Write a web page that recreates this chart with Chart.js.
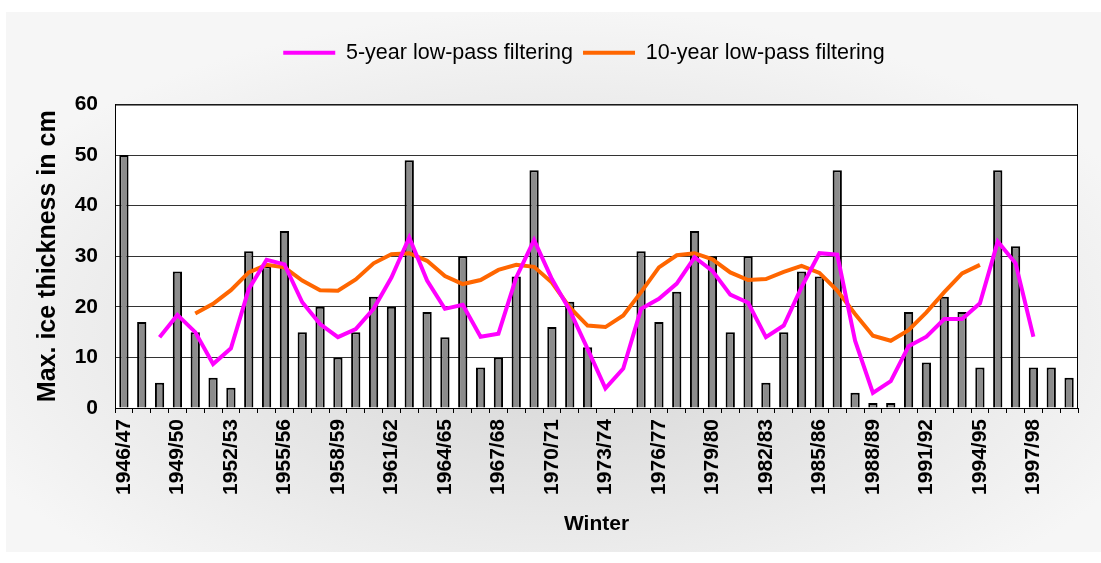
<!DOCTYPE html>
<html>
<head>
<meta charset="utf-8">
<script src="https://cdn.jsdelivr.net/npm/chart.js@4.4.1/dist/chart.umd.min.js"></script>
<style>
  body { margin: 0; background: #fff; }
  #wrap { width: 1101px; height: 563px; }
</style>
</head>
<body>
<div id="wrap"><canvas id="iceChart" width="1101" height="563"></canvas></div>
<script>
// winters 1946/47 .. 1999/00
const winters = [
  "1946/47", "1947/48", "1948/49", "1949/50", "1950/51", "1951/52", "1952/53", "1953/54", "1954/55",
  "1955/56", "1956/57", "1957/58", "1958/59", "1959/60", "1960/61", "1961/62", "1962/63", "1963/64",
  "1964/65", "1965/66", "1966/67", "1967/68", "1968/69", "1969/70", "1970/71", "1971/72", "1972/73",
  "1973/74", "1974/75", "1975/76", "1976/77", "1977/78", "1978/79", "1979/80", "1980/81", "1981/82",
  "1982/83", "1983/84", "1984/85", "1985/86", "1986/87", "1987/88", "1988/89", "1989/90", "1990/91",
  "1991/92", "1992/93", "1993/94", "1994/95", "1995/96", "1996/97", "1997/98", "1998/99", "1999/00"
];

// max. ice thickness per winter (cm), no ice in 1973/74 and 1974/75
const iceThickness = [
  50, 17, 5, 27, 15, 6, 4, 31, 28,
  35, 15, 20, 10, 15, 22, 20, 49, 19,
  14, 30, 8, 10, 26, 47, 16, 21, 12,
  null, null, 31, 17, 23, 35, 30, 15, 30,
  5, 15, 27, 26, 47, 3, 1, 1, 19,
  9, 22, 19, 8, 47, 32, 8, 8, 6
];

const lowPass5 = [
  null, null, 14.0, 18.4, 15.0, 8.7, 11.8, 23.5, 29.3,
  28.4, 20.9, 16.6, 14.0, 15.6, 19.6, 25.8, 33.7, 25.2,
  19.6, 20.4, 14.1, 14.7, 25.8, 33.2, 25.5, 19.3, 11.7,
  3.9, 7.8, 19.6, 21.6, 24.6, 29.8, 27.1, 22.4, 20.8,
  14.0, 16.3, 23.9, 30.6, 30.3, 13.3, 3.0, 5.3, 12.2,
  14.1, 17.6, 17.6, 20.7, 32.9, 28.6, 14.1, null, null
];

const lowPass10 = [
  null, null, null, null, 18.7, 20.6, 23.3, 26.8, 28.3,
  27.8, 25.2, 23.3, 23.2, 25.4, 28.6, 30.4, 30.6, 29.1,
  26.1, 24.5, 25.3, 27.3, 28.3, 27.9, 24.8, 19.9, 16.3,
  16.0, 18.3, 22.9, 27.8, 30.2, 30.6, 29.4, 26.8, 25.3,
  25.5, 26.9, 28.1, 26.7, 23.2, 18.6, 14.3, 13.3, 15.4,
  18.9, 22.9, 26.6, 28.3, null, null, null, null, null
];

const yTicks = [0, 10, 20, 30, 40, 50, 60];

const FONT = "'Liberation Sans', Arial, sans-serif";

// grey panel behind everything, white plot area, frame round the plot
const panelBackground = {
  id: "panelBackground",
  beforeDraw(chart) {
    const c = chart.ctx;
    const area = chart.chartArea;
    c.save();
    c.fillStyle = "#fff";
    c.fillRect(0, 0, chart.width, chart.height);

    c.beginPath();
    c.rect(6, 12, chart.width - 6, chart.height - 23);
    c.clip();
    c.translate(560, 330);
    c.scale(1, 0.5);
    const g = c.createRadialGradient(0, 0, 0, 0, 0, 640);
    g.addColorStop(0, "#d4d4d4");
    g.addColorStop(1, "#f6f6f6");
    c.fillStyle = g;
    c.fillRect(-700, -800, 1400, 1600);
    c.restore();

    c.save();
    c.fillStyle = "#fff";
    c.fillRect(area.left, area.top, area.right - area.left, area.bottom - area.top);
    c.restore();
  },
  afterDatasetsDraw(chart) {
    const c = chart.ctx;
    const area = chart.chartArea;
    c.save();
    c.strokeStyle = "#000";
    c.lineWidth = 1;
    c.strokeRect(area.left + 0.5, area.top + 0.5, area.right - area.left - 1, area.bottom - area.top);
    c.restore();
  }
};

// extra room between legend and plot, legend sits a bit right of centre
const legendSpacing = {
  id: "legendSpacing",
  beforeLayout(chart) {
    const legend = chart.legend;
    if (!legend || legend._spaced) return;
    const fit = legend.fit;
    legend.fit = function () {
      fit.call(this);
      this.height += 31;
    };
    legend._spaced = true;
  },
  afterLayout(chart) {
    if (chart.legend) chart.legend.left += 90;
  }
};

new Chart(document.getElementById("iceChart"), {
  data: {
    labels: winters,
    datasets: [
      {
        type: "line",
        label: "5-year low-pass filtering",
        data: lowPass5,
        borderColor: "#ff00ff",
        backgroundColor: "#ff00ff",
        borderWidth: 4,
        pointRadius: 0,
        tension: 0,
        order: 0
      },
      {
        type: "line",
        label: "10-year low-pass filtering",
        data: lowPass10,
        borderColor: "#ff6600",
        backgroundColor: "#ff6600",
        borderWidth: 4,
        pointRadius: 0,
        tension: 0,
        order: 1
      },
      {
        type: "bar",
        label: "Max. ice thickness",
        data: iceThickness,
        backgroundColor: "#8c8c8c",
        borderColor: "#000",
        borderWidth: 2,
        barPercentage: 0.52,
        categoryPercentage: 1,
        order: 2
      }
    ]
  },
  options: {
    responsive: false,
    animation: false,
    devicePixelRatio: 1,
    layout: {
      padding: { top: 32, right: 23, bottom: 0, left: 0 }
    },
    plugins: {
      tooltip: { enabled: false },
      legend: {
        display: true,
        position: "top",
        labels: {
          color: "#000",
          font: { family: FONT, size: 21.5 },
          usePointStyle: true,
          pointStyleWidth: 52,
          padding: 10,
          generateLabels(chart) {
            return chart.data.datasets
              .map((ds, i) => ({ ds, i }))
              .filter(({ ds }) => ds.type === "line")
              .map(({ ds, i }) => ({
                text: ds.label,
                datasetIndex: i,
                pointStyle: "line",
                strokeStyle: ds.borderColor,
                fillStyle: ds.borderColor,
                lineWidth: 4,
                fontColor: "#000"
              }));
          }
        }
      }
    },
    scales: {
      x: {
        offset: true,
        grid: {
          offset: true,
          drawOnChartArea: false,
          drawTicks: true,
          tickLength: 5,
          color: "#000"
        },
        border: { color: "#000" },
        ticks: {
          autoSkip: false,
          minRotation: 90,
          maxRotation: 90,
          padding: 6,
          color: "#000",
          font: { family: FONT, size: 21, weight: "bold" },
          callback: function (value, index) {
            return index % 3 === 0 ? winters[index] : "";
          }
        },
        title: {
          display: true,
          text: "Winter",
          color: "#000",
          font: { family: FONT, size: 21, weight: "bold" },
          padding: { top: 4, bottom: 26 }
        },
        afterFit(scale) {
          scale.height = 155;
        }
      },
      y: {
        min: 0,
        max: 60,
        afterBuildTicks(scale) {
          scale.ticks = yTicks.map((v) => ({ value: v }));
        },
        grid: {
          drawTicks: false,
          color: "#333",
          lineWidth: 1
        },
        border: { color: "#000" },
        ticks: {
          padding: 17,
          color: "#000",
          font: { family: FONT, size: 21, weight: "bold" }
        },
        title: {
          display: true,
          text: "Max. ice thickness in cm",
          color: "#000",
          font: { family: FONT, size: 25, weight: "bold" },
          padding: { top: 33, bottom: 4 }
        },
        afterFit(scale) {
          scale.width = 115;
        }
      }
    }
  },
  plugins: [panelBackground, legendSpacing]
});
</script>
</body>
</html>
